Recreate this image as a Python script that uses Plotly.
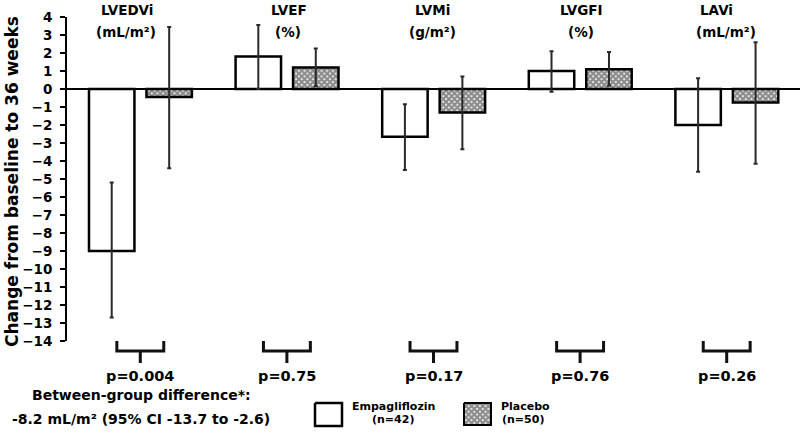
import plotly.graph_objects as go

categories = ["LVEDVi", "LVEF", "LVMi", "LVGFI", "LAVi"]
units = ["(mL/m²)", "(%)", "(g/m²)", "(%)", "(mL/m²)"]
empa_mean = [-9.0, 1.8, -2.65, 1.0, -2.0]
empa_err_plus = [3.8, 1.75, 1.8, 1.1, 2.6]
empa_err_minus = [3.7, 1.8, 1.85, 1.15, 2.6]
plac_mean = [-0.45, 1.2, -1.3, 1.1, -0.75]
plac_err_plus = [3.9, 1.05, 2.0, 0.95, 3.35]
plac_err_minus = [3.95, 1.05, 2.05, 0.9, 3.4]
p_values = ["p=0.004", "p=0.75", "p=0.17", "p=0.76", "p=0.26"]
y_ticks = list(range(-14, 5))

FONT = "DejaVu Sans"
W, H = 800, 435            # target picture size
S = 443 / 435              # page-to-picture vertical compensation
HP = 443                   # page height of the figure
ML = 67
MT = 17 * S
PH = HP - MT
PLOT_BOTTOM = 341          # picture px
DOM_BOTTOM = (HP - PLOT_BOTTOM * S) / PH

# text positions (picture px)
header_x = [127, 289, 432, 581, 716]
unit_x = [126, 288, 432, 581, 726]


def py(pix):
    return (HP - pix * S) / PH


def px(pix):
    return (pix - ML) / (W - ML)


fig = go.Figure()

err_style = dict(type="data", symmetric=False, color="#2a2a2a", thickness=2, width=2)
hatch = dict(shape="x", fgcolor="#1a1a1a", bgcolor="white", size=4, solidity=0.8)

fig.add_trace(go.Bar(
    x=categories, y=empa_mean, width=0.31, offset=-0.35,
    marker=dict(color="white", line=dict(color="black", width=2.5)),
    error_y=dict(array=empa_err_plus, arrayminus=empa_err_minus, **err_style),
    name="Empagliflozin", showlegend=False,
))
fig.add_trace(go.Bar(
    x=categories, y=plac_mean, width=0.31, offset=0.042,
    marker=dict(color="white", line=dict(color="black", width=2.5), pattern=hatch),
    error_y=dict(array=plac_err_plus, arrayminus=plac_err_minus, **err_style),
    name="Placebo", showlegend=False,
))

# legend swatches on an auxiliary pixel-like axis pair
fig.add_trace(go.Scatter(
    x=[315, 342, 342, 315, 315], y=[403, 403, 426, 426, 403],
    xaxis="x2", yaxis="y2", mode="lines", fill="toself", fillcolor="white",
    line=dict(color="black", width=2.5), showlegend=False, hoverinfo="skip",
))
fig.add_trace(go.Scatter(
    x=[464, 491, 491, 464, 464], y=[403, 403, 425, 425, 403],
    xaxis="x2", yaxis="y2", mode="lines", fill="toself", fillcolor="white",
    fillpattern=hatch,
    line=dict(color="black", width=2), showlegend=False, hoverinfo="skip",
))

bold = lambda s: dict(family=FONT, size=s, color="black", weight="bold")

annotations = []
shapes = []
for i, (cat, unit, p) in enumerate(zip(categories, units, p_values)):
    annotations.append(dict(x=header_x[i], y=py(10), xref="x2", yref="paper", text=cat,
                            showarrow=False, xanchor="center", yanchor="middle", font=bold(13.5)))
    annotations.append(dict(x=unit_x[i], y=py(31.5), xref="x2", yref="paper", text=unit,
                            showarrow=False, xanchor="center", yanchor="middle", font=bold(13.5)))
    annotations.append(dict(x=i, y=py(376), xref="x", yref="paper", text=p, showarrow=False,
                            xanchor="center", yanchor="middle", font=bold(14.5)))
    hw = 0.16
    yt, ym, yb = py(341), py(351), py(363)
    shapes.append(dict(
        type="path", xref="x", yref="paper",
        path=f"M {i-hw},{yt} L {i-hw},{ym} L {i+hw},{ym} L {i+hw},{yt} M {i},{ym} L {i},{yb}",
        line=dict(color="#111", width=3),
    ))

annotations += [
    dict(x=141, y=395, xref="x2", yref="y2", text="Between-group difference*:", showarrow=False,
         xanchor="center", yanchor="middle", font=bold(14)),
    dict(x=140.5, y=419, xref="x2", yref="y2", text="-8.2 mL/m² (95% CI -13.7 to -2.6)", showarrow=False,
         xanchor="center", yanchor="middle", font=bold(14)),
    dict(x=350, y=406, xref="x2", yref="y2", text="Empagliflozin", showarrow=False, xanchor="left",
         yanchor="middle", font=bold(11)),
    dict(x=393, y=419, xref="x2", yref="y2", text="(n=42)", showarrow=False,
         xanchor="center", yanchor="middle", font=bold(11)),
    dict(x=499, y=406, xref="x2", yref="y2", text="Placebo", showarrow=False, xanchor="left",
         yanchor="middle", font=bold(11)),
    dict(x=523, y=419, xref="x2", yref="y2", text="(n=50)", showarrow=False,
         xanchor="center", yanchor="middle", font=bold(11)),
    dict(x=px(12), y=py(182), xref="paper", yref="paper", text="Change from baseline to 36 weeks",
         showarrow=False, textangle=-90, xanchor="center", yanchor="middle", font=bold(17)),
]

fig.update_layout(
    width=W, height=HP, autosize=False,
    margin=dict(l=ML, r=0, t=MT, b=0),
    paper_bgcolor="white", plot_bgcolor="white",
    barmode="overlay",
    showlegend=False,
    xaxis=dict(type="category", range=[-0.5, 4.5], showticklabels=False, showline=False,
               showgrid=False, zeroline=False, ticks=""),
    yaxis=dict(range=[-14, 4], domain=[DOM_BOTTOM, 1], tickvals=y_ticks, showline=True,
               linecolor="black", linewidth=2, ticks="outside", ticklen=5, tickwidth=2,
               tickcolor="black", showgrid=False, zeroline=True, zerolinecolor="black",
               zerolinewidth=2, ticklabelstandoff=5,
               tickfont=bold(13.5)),
    xaxis2=dict(domain=[0, 1], range=[ML, W], visible=False, anchor="y2"),
    yaxis2=dict(domain=[0, DOM_BOTTOM], range=[H, PLOT_BOTTOM], visible=False, anchor="x2"),
    annotations=annotations,
    shapes=shapes,
)

fig.write_html("out.html", config={"displayModeBar": False, "responsive": False},
               post_script="document.body.style.margin='0';")
